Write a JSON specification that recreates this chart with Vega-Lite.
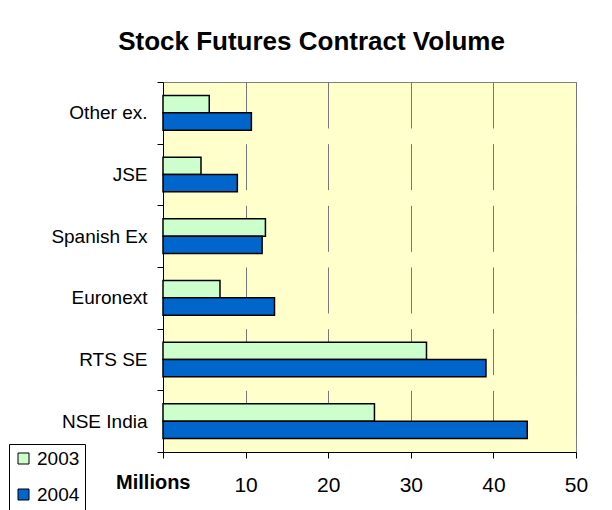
{
  "$schema": "https://vega.github.io/schema/vega-lite/v6.json",
  "autosize": {"type": "none"},
  "width": 413,
  "height": 370,
  "padding": {"left": 163, "top": 82, "right": 36, "bottom": 58},
  "background": "white",
  "title": {
    "text": "Stock Futures Contract Volume",
    "font": "Liberation Sans",
    "fontSize": 26,
    "fontWeight": "bold",
    "color": "black",
    "anchor": "middle",
    "frame": "group",
    "dx": -58,
    "dy": 33,
    "baseline": "alphabetic",
    "offset": 30
  },
  "data": {
    "values": [
      {"exchange": "Other ex.", "year": "2003", "volume": 5.6},
      {"exchange": "Other ex.", "year": "2004", "volume": 10.7},
      {"exchange": "JSE", "year": "2003", "volume": 4.6},
      {"exchange": "JSE", "year": "2004", "volume": 9.0},
      {"exchange": "Spanish Ex", "year": "2003", "volume": 12.4},
      {"exchange": "Spanish Ex", "year": "2004", "volume": 12.0},
      {"exchange": "Euronext", "year": "2003", "volume": 6.9},
      {"exchange": "Euronext", "year": "2004", "volume": 13.5},
      {"exchange": "RTS SE", "year": "2003", "volume": 31.9},
      {"exchange": "RTS SE", "year": "2004", "volume": 39.1},
      {"exchange": "NSE India", "year": "2003", "volume": 25.6},
      {"exchange": "NSE India", "year": "2004", "volume": 44.1}
    ]
  },
  "mark": {"type": "bar", "stroke": "black", "strokeWidth": 1.5},
  "encoding": {
    "y": {
      "field": "exchange",
      "type": "nominal",
      "sort": null,
      "scale": {"paddingInner": 0, "paddingOuter": 0},
      "axis": {
        "title": null,
        "tickBand": "extent",
        "ticks": true,
        "tickSize": 6,
        "tickColor": "black",
        "tickWidth": 1,
        "domainColor": "black",
        "domainWidth": 1,
        "labelFont": "Liberation Sans",
        "labelFontSize": 19,
        "labelColor": "black",
        "labelPadding": 10,
        "labelLimit": 200,
        "grid": false
      }
    },
    "yOffset": {
      "field": "year",
      "type": "nominal",
      "scale": {"paddingInner": 0, "paddingOuter": 0.78}
    },
    "x": {
      "field": "volume",
      "type": "quantitative",
      "scale": {"domain": [0, 50], "nice": false},
      "axis": {
        "values": [0, 10, 20, 30, 40, 50],
        "labelExpr": "datum.value == 0 ? '' : datum.label",
        "title": "Millions",
        "titleFont": "Liberation Sans",
        "titleFontSize": 20,
        "titleFontWeight": "bold",
        "titleColor": "black",
        "titleAlign": "right",
        "titleBaseline": "alphabetic",
        "titleX": 27,
        "titleY": 36,
        "tickSize": 6,
        "tickColor": "black",
        "tickWidth": 1,
        "domainColor": "black",
        "domainWidth": 1,
        "labelFont": "Liberation Sans",
        "labelFontSize": 21,
        "labelColor": "black",
        "labelBaseline": "alphabetic",
        "labelPadding": 33,
        "labelFlush": false,
        "grid": true,
        "gridColor": "#777777",
        "gridWidth": 1,
        "gridOpacity": 1,
        "gridDash": [0, 15.67, 46, 0],
        "gridDashOffset": 0
      }
    },
    "color": {
      "field": "year",
      "type": "nominal",
      "scale": {"domain": ["2003", "2004"], "range": ["#CCFFCC", "#0066CC"]},
      "legend": {
        "title": null,
        "orient": "none",
        "legendX": -154,
        "legendY": 362,
        "strokeColor": "black",
        "fillColor": "white",
        "padding": 5,
        "symbolType": "square",
        "symbolSize": 121,
        "symbolStrokeColor": "black",
        "symbolStrokeWidth": 1,
        "symbolOpacity": 1,
        "labelFont": "Liberation Sans",
        "labelFontSize": 19,
        "labelColor": "black",
        "labelOffset": 4,
        "rowPadding": 16,
        "cornerRadius": 0
      }
    }
  },
  "config": {
    "font": "Liberation Sans",
    "view": {"fill": "#FFFFCC", "stroke": "#808080", "strokeWidth": 1}
  }
}
